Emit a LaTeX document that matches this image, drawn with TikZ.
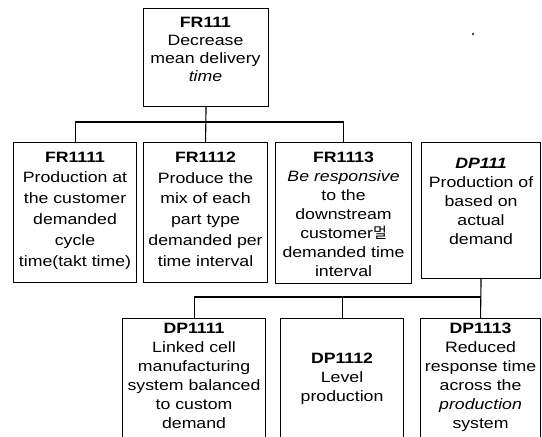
\documentclass[tikz,border=0pt]{standalone}
\usepackage{fontspec}
\usepackage{tikz}
\newfontfamily\boxfont[FakeStretch=1.18]{Liberation Sans}
\newfontfamily\krfont{Noto Sans CJK KR}

\tikzset{
	box/.style={draw, line width=1.1pt, anchor=north west, inner sep=0pt},
	boxtext/.style={anchor=north, align=center, inner sep=0pt,
		font={\boxfont\fontsize{15}{19}\selectfont}},
	widetext/.style={boxtext, font={\boxfont\fontsize{15}{20.8}\selectfont}},
	tighttext/.style={boxtext, font={\boxfont\fontsize{15}{18}\selectfont}},
	link/.style={line width=1.1pt}
}

\begin{document}
\begin{tikzpicture}[x=1pt,y=-1pt]
	\useasboundingbox (0,0) rectangle (542,437);
	\clip (0,0) rectangle (542,437);

	% top FR
	\node[box, minimum width=125pt, minimum height=98pt] (fr111) at (143,8) {};
	\node[tighttext] (fr111t) at (205.5,16.6) {\textbf{FR111}\\Decrease\\mean delivery\\\textit{time}};

	% second level
	\node[box, minimum width=123pt, minimum height=140pt] (fr1111) at (13,142) {};
	\node[box, minimum width=124pt, minimum height=140pt] (fr1112) at (143,142) {};
	\node[box, minimum width=136pt, minimum height=141pt] (fr1113) at (275,142) {};
	\node[box, minimum width=119pt, minimum height=136pt] (dp111) at (421,142) {};

	\node[widetext] (fr1111t) at (fr1111.north |- 0,151.6) {\textbf{FR1111}\\Production at\\the customer\\demanded\\cycle\\time(takt time)};
	\node[widetext] (fr1112t) at (fr1112.north |- 0,151.6) {\textbf{FR1112}\\Produce the\\mix of each\\part type\\demanded per\\time interval};
	\node[boxtext] (fr1113t) at (fr1113.north |- 0,151.6) {\textbf{FR1113}\\\textit{Be responsive}\\to the\\downstream\\customer{\krfont 멀}\\demanded time\\interval};
	\node[boxtext] (dp111t) at (dp111.north |- 0,157.6) {\textbf{\textit{DP111}}\\Production of\\based on\\actual\\demand};

	% third level
	\node[box, minimum width=143pt, minimum height=140pt] (dp1111) at (122,318) {};
	\node[box, minimum width=123pt, minimum height=140pt] (dp1112) at (280,318) {};
	\node[box, minimum width=120pt, minimum height=140pt] (dp1113) at (420,318) {};

	\node[boxtext] (dp1111t) at (dp1111.north |- 0,322.6) {\textbf{DP1111}\\Linked cell\\manufacturing\\system balanced\\to custom\\demand};
	\node[boxtext] (dp1112t) at (dp1112.north |- 0,352.6) {\textbf{DP1112}\\Level\\production};
	\node[boxtext] (dp1113t) at (dp1113.north |- 0,322.6) {\textbf{DP1113}\\Reduced\\response time\\across the\\\textit{production}\\system};

	% connectors
	\coordinate (bus1) at (fr111.south |- 0,122);
	\draw[link] (fr111.south) -- (fr1112.north);
	\draw[link] (fr1111.north) |- (bus1) -| (fr1113.north);

	\coordinate (bus2) at (dp111.south |- 0,297);
	\draw[link] (dp111.south) -- (dp1113.north);
	\draw[link] (dp1111.north) |- (bus2);
	\draw[link] (dp1112.north) -- (dp1112.north |- bus2);

	\fill (473,34) circle (1.2pt);
\end{tikzpicture}
\end{document}
